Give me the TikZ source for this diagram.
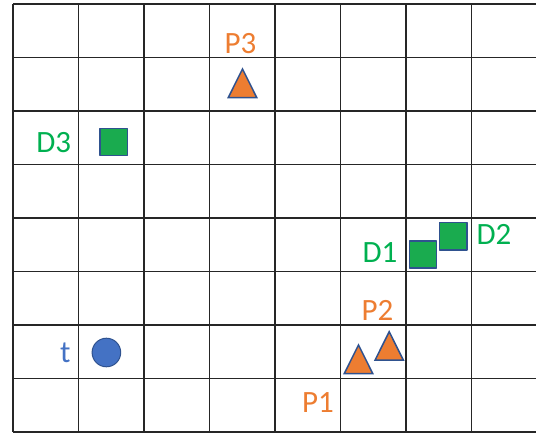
\documentclass[tikz,border=0pt]{standalone}
\usepackage{fontspec}
\setmainfont{Carlito}
\definecolor{dgreen}{HTML}{00B050}
\definecolor{sqgreen}{HTML}{1AAB4F}
\definecolor{tri}{HTML}{ED7D31}
\definecolor{dot}{HTML}{4472C4}
\definecolor{rim}{HTML}{2F528F}
\tikzset{
  lbl/.style={anchor=base, inner sep=0pt, font=\fontsize{31}{31}\selectfont},
  box/.style={fill=sqgreen, draw=rim, line width=1.5pt},
  peak/.style={fill=tri, draw=rim, line width=1.5pt, line join=miter}
}
\begin{document}
\begin{tikzpicture}[x=1pt, y=-1pt, line join=round]
\useasboundingbox (0,0) rectangle (536,434);
\def\xo{13} \def\yo{4} \def\dx{65.5} \def\dy{53.5} % grid
\begin{scope}
\clip (0,0) rectangle (536,434);
\foreach \i in {0,...,8}
  \draw[line width=1.6pt, black!85] (\xo+\i*\dx,\yo)--(\xo+\i*\dx,\yo+8*\dy);
\foreach \j in {0,...,8}
  \draw[line width=1.6pt, black!85] (\xo,\yo+\j*\dy)--(\xo+8*\dx,\yo+\j*\dy);
\end{scope}
% squares
\foreach \x/\y in {423/254.5, 453.2/236.2, 113.7/142}
  \draw[box] (\x-13.6,\y-13.6) rectangle (\x+13.6,\y+13.6);
% triangles
\foreach \x/\y in {358.5/345, 389.2/331.7, 242.5/69}
  \draw[peak] (\x,\y)--(\x+14.2,\y+28.5)--(\x-14.2,\y+28.5)--cycle;
% target
\draw[fill=dot, draw=rim, line width=1pt] (106.4,352.5) circle(14.3);
% labels
\node[lbl, text=dgreen] (d1) at (380,262.5) {D1};
\node[lbl, text=dgreen] (d2) at (494,244) {D2};
\node[lbl, text=dgreen] (d3) at (53.7,152.3) {D3};
\node[lbl, text=tri] (p1) at (318,412.3) {P1};
\node[lbl, text=tri] (p2) at (377.5,320) {P2};
\node[lbl, text=tri] (p3) at (240.5,53.3) {P3};
\node[lbl, text=dot] (t) at (65.3,362.3) {t};
\end{tikzpicture}
\end{document}
